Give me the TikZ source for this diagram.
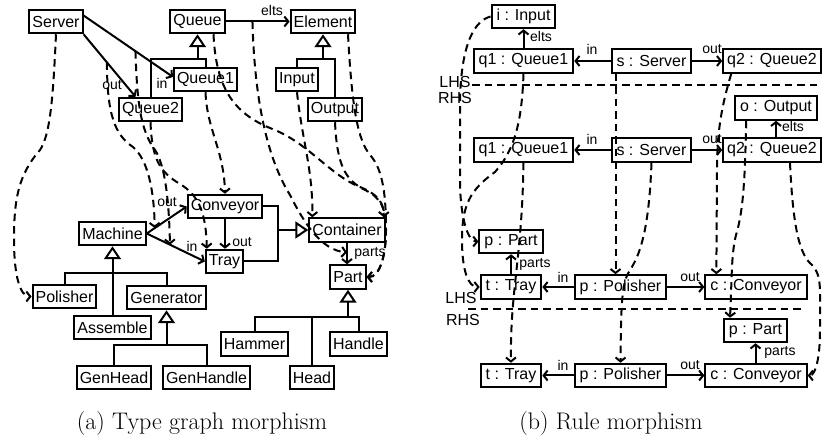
\documentclass[tikz,border=0pt]{standalone}
\usepackage{fontspec}
\setsansfont{Liberation Sans}
\usetikzlibrary{arrows.meta,calc}
\begin{document}
\begin{tikzpicture}[x=1pt,y=-1pt,
  box/.style={draw, line width=2pt, inner xsep=3pt, inner ysep=0pt, minimum height=23.5pt, font=\sffamily\fontsize{16}{18}\selectfont},
  rbox/.style={box, inner xsep=5pt},
  lbl/.style={inner sep=0pt, font=\sffamily\fontsize{14}{16}\selectfont},
  lhs/.style={inner sep=0pt, font=\sffamily\fontsize{16}{18}\selectfont},
  arr/.style={line width=2pt, -{Straight Barb[length=4pt,width=10pt]}},
  gline/.style={line width=2pt},
  gen/.style={line width=2pt, -{Triangle[open,length=13pt,width=17pt]}},
  morph/.style={line width=2pt, dash pattern=on 7.5pt off 5pt, -{Straight Barb[length=4pt,width=10pt]}},
  sepline/.style={line width=2pt, dash pattern=on 7.5pt off 5pt},
  capt/.style={inner sep=0pt, anchor=base, font=\rmfamily\fontsize{24}{28}\selectfont}]
\useasboundingbox (0,0) rectangle (822,443);
% ---------- left: type graphs
\node[box] (Server) at (56,21.5) {Server};
\node[box] (Queue) at (197.5,21.5) {Queue};
\node[box] (Element) at (323,21.5) {Element};
\node[box] (Queue1) at (205.5,79.5) {Queue1};
\node[box] (Queue2) at (150.5,109.5) {Queue2};
\node[box] (Input) at (297,79.5) {Input};
\node[box] (Output) at (335,109.5) {Output};
\node[box] (Conveyor) at (225,206.5) {Conveyor};
\node[box] (Machine) at (112.5,233.5) {Machine};
\node[box] (Tray) at (224.5,261.5) {Tray};
\node[box] (Container) at (347,230) {Container};
\node[box] (Part) at (348,277) {Part};
\node[box] (Polisher) at (64.5,296.5) {Polisher};
\node[box] (Generator) at (166.5,297.5) {Generator};
\node[box] (Assemble) at (112.5,327.5) {Assemble};
\node[box] (GenHead) at (114,377.5) {GenHead};
\node[box] (GenHandle) at (206.5,377.5) {GenHandle};
\node[box] (Hammer) at (254.5,344) {Hammer};
\node[box] (Handle) at (358.5,344) {Handle};
\node[box] (Head) at (312,377.5) {Head};
% solid edges
\draw[arr] (Server.south east) -- coordinate[pos=0.45] (eOut1) ([xshift=-15pt]Queue2.north);
\draw[arr] ([yshift=6pt]Server.east) -- coordinate[pos=0.58] (eIn1) ([yshift=2.5pt]Queue1.west);
\node[lbl] (lOut1) at (112,85) {out};
\node[lbl] (lIn1) at (162,83) {in};
\draw[arr] (Queue.east) -- coordinate[pos=0.42] (eElts) (Element.west);
\node[lbl] (lElts) at (272,11) {elts};
\draw[arr] (Machine.east) -- coordinate[pos=0.2] (eOut2) (Conveyor.west);
\draw[arr] (Machine.east) -- coordinate[pos=0.4] (eIn2) (Tray.west);
\node[lbl] (lOut2) at (167,202) {out};
\node[lbl] (lIn2) at (192,246) {in};
\draw[arr] (Conveyor.south) -- (Conveyor.south |- Tray.north);
\node[lbl] (lOut3) at (242,242) {out};
\draw[arr] (Container.south) -- coordinate[pos=0.45] (eParts) (Container.south |- Part.north);
\node[lbl] (lParts) at (370,253) {parts};
% generalisations
\draw[gen] (197.5,59) -- (Queue.south);
\draw[gline] (Queue2.north) -- (150.5,59) -- (205.5,59) -- (Queue1.north);
\draw[gen] (323,59) -- (Element.south);
\draw[gline] (Input.north) -- (297,59) -- (335,59) -- (Output.north);
\draw[gen] (Assemble.north) -- (Machine.south);
\draw[gline] (Polisher.north) -- (64.5,273) -- (166.5,273) -- (Generator.north);
\draw[gen] (166.5,345) -- (Generator.south);
\draw[gline] (GenHead.north) -- (114,345) -- (206.5,345) -- (GenHandle.north);
\draw[gline] (Conveyor.east) -- (278,206.5) -- (278,261.5) -- (Tray.east);
\draw[gen] (278,230) -- (Container.west);
\draw[gen] (348,317) -- (Part.south);
\draw[gline] (Hammer.north) -- (254.5,317) -- (358.5,317) -- (Handle.north);
\draw[gline] (Head.north) -- (312,317);
% morphism (dashed)
\draw[morph] (Server.south) .. controls (53,100) and (50,135) .. (40,150) .. controls (18,175) and (14,200) .. (14,240) .. controls (14,275) and (20,296.5) .. (Polisher.west);
\draw[morph] (eOut1) .. controls (107,115) and (115,135) .. (133,147) .. controls (148,160) and (154,190) .. (eOut2);
\draw[morph] (eIn1) .. controls (137,100) and (140,130) .. (155,150) .. controls (165,165) and (169,200) .. (eIn2);
\draw[morph] (Queue2.south) .. controls (152,160) and (160,172) .. (180,184) .. controls (200,196) and (206,215) .. ([xshift=2pt]Tray.north west);
\draw[morph] (Queue1.south) .. controls (207,130) and (224,150) .. (Conveyor.north);
\draw[morph] ([xshift=16pt]Queue.south) .. controls (216,90) and (235,115) .. (275,130) .. controls (310,145) and (330,175) .. (360,187) .. controls (380,195) and (384,205) .. ([xshift=-2pt]Container.north east);
\draw[morph] (eElts) .. controls (254,80) and (262,150) .. (290,195) .. controls (305,225) and (322,250) .. (eParts);
\draw[morph] (Input.south) .. controls (302,140) and (313,170) .. ([xshift=4pt]Container.north west);
\draw[morph] (Output.south) .. controls (337,165) and (345,180) .. (365,190) .. controls (382,198) and (386,210) .. (386,230) .. controls (386,255) and (380,277) .. (Part.east);
\draw[morph] ([xshift=25pt]Element.south) .. controls (352,110) and (358,140) .. (370,155) .. controls (384,170) and (386,200) .. (386,230) .. controls (386,255) and (380,277) .. (Part.east);
% ---------- right: rules
\node[rbox] (iIn) at (523.5,16.5) {i : Input};
\node[rbox] (q1L) at (523.5,61) {q1 : Queue1};
\node[rbox] (sL) at (651.5,61) {s : Server};
\node[rbox, inner xsep=4pt] (q2L) at (772,61) {q2 : Queue2};
\node[rbox] (oOut) at (776,108) {o : Output};
\node[rbox] (q1R) at (523.5,150) {q1 : Queue1};
\node[rbox] (sR) at (651.5,150) {s : Server};
\node[rbox, inner xsep=4pt] (q2R) at (772,150) {q2 : Queue2};
\node[rbox] (pPartL) at (511,241.5) {p : Part};
\node[rbox] (tTrayL) at (511,287) {t : Tray};
\node[rbox] (pPolL) at (620.5,287) {p : Polisher};
\node[rbox] (cConvL) at (756,287) {c : Conveyor};
\node[rbox] (pPartR) at (755.5,330.5) {p : Part};
\node[rbox] (tTrayR) at (511,375.5) {t : Tray};
\node[rbox] (pPolR) at (620.5,375.5) {p : Polisher};
\node[rbox] (cConvR) at (756,375.5) {c : Conveyor};
\node[lhs] (lhsA) at (455,82) {LHS};
\node[lhs] (rhsA) at (455,98) {RHS};
\node[lhs] (lhsB) at (461,298) {LHS};
\node[lhs] (rhsB) at (463,320) {RHS};
\draw[sepline] (472,85) -- (822,85);
\draw[sepline] (468,309) -- (805,309);
% solid edges
\draw[arr] (q1L.north) -- (q1L.north |- iIn.south);
\node[lbl] (lEltsA) at (541,37) {elts};
\draw[arr] (sL.west) -- (q1L.east);
\node[lbl] (lInA) at (592,49) {in};
\draw[arr] (sL.east) -- (q2L.west);
\node[lbl] (lOutA) at (712,49) {out};
\draw[arr] (sR.west) -- (q1R.east);
\node[lbl] (lInB) at (592,139) {in};
\draw[arr] (sR.east) -- (q2R.west);
\node[lbl] (lOutB) at (712,139) {out};
\coordinate (q2Rtop) at ([xshift=4pt]q2R.north);
\draw[arr] (q2Rtop) -- (q2Rtop |- oOut.south);
\node[lbl] (lEltsB) at (793,127) {elts};
\draw[arr] (tTrayL.north) -- (tTrayL.north |- pPartL.south);
\node[lbl] (lPartsA) at (535,264) {parts};
\draw[arr] (pPolL.west) -- (tTrayL.east);
\node[lbl] (lInC) at (563,277) {in};
\draw[arr] (pPolL.east) -- (cConvL.west);
\node[lbl] (lOutC) at (690,277) {out};
\draw[arr] (pPolR.west) -- (tTrayR.east);
\node[lbl] (lInD) at (563,365) {in};
\draw[arr] (pPolR.east) -- (cConvR.west);
\node[lbl] (lOutD) at (690,365) {out};
\draw[arr] (cConvR.north -| pPartR.south) -- (pPartR.south);
\node[lbl] (lPartsB) at (780,352) {parts};
% morphism (dashed)
\draw[morph] (iIn.west) .. controls (470,22) and (461,55) .. (460,100) -- (460,185) .. controls (461,220) and (468,241.5) .. (pPartL.west);
\draw[morph] (q1L.south) .. controls (522,120) and (515,150) .. (495,172) .. controls (470,190) and (462,205) .. (462,240) .. controls (462,270) and (468,287) .. (tTrayL.west);
\draw[morph] (q1R.south) .. controls (522,260) and (510,290) .. (tTrayR.north);
\coordinate (sLb) at ([xshift=5pt]sL.south west);
\draw[morph] (sLb) -- (sLb |- pPolL.north);
\draw[morph] (sR.south) .. controls (649,230) and (640,255) .. (630,270) .. controls (622,282) and (621,300) .. (pPolR.north);
\coordinate (q2Lb) at ([xshift=9pt]q2L.south west);
\coordinate (cConvLt) at ([xshift=12pt]cConvL.north west);
\draw[morph] (q2Lb) .. controls (722,105) and (717,130) .. (717,170) -- (cConvLt);
\coordinate (oOutb) at ([xshift=12pt]oOut.south west);
\coordinate (pPartRt) at ([xshift=7pt]pPartR.north west);
\draw[morph] (oOutb) .. controls (745,190) and (742,215) .. (736,235) .. controls (731,255) and (732,280) .. (pPartRt);
\draw[morph] ([xshift=18pt]q2R.south) .. controls (793,230) and (800,255) .. (812,265) .. controls (822,275) and (820,290) .. (820,330) .. controls (820,360) and (815,375.5) .. (cConvR.east);
% captions
\node[capt] (capA) at (202,430) {(a) Type graph morphism};
\node[capt] (capB) at (611,430) {(b) Rule morphism};
\end{tikzpicture}
\end{document}
